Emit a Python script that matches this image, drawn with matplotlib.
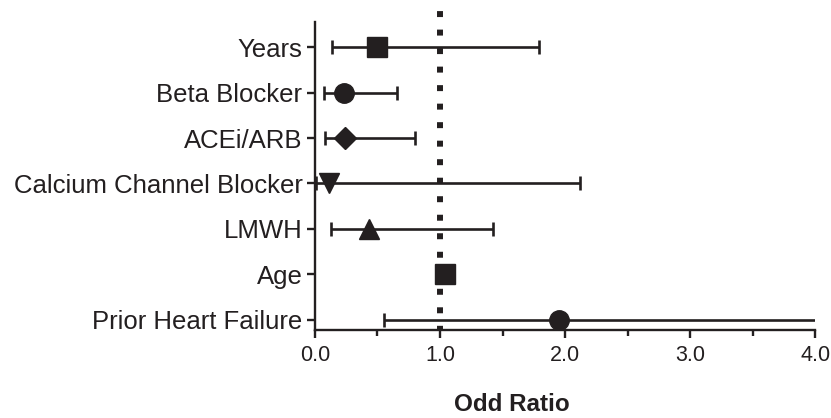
import matplotlib
matplotlib.use("Agg")
import matplotlib.pyplot as plt
from matplotlib.ticker import MultipleLocator

plt.rcParams['font.family'] = ['Liberation Sans', 'DejaVu Sans']

labels = ["Years", "Beta Blocker", "ACEi/ARB", "Calcium Channel Blocker",
          "LMWH", "Age", "Prior Heart Failure"]
odds = [0.50, 0.23, 0.24, 0.11, 0.43, 1.04, 1.95]
ci_low = [0.14, 0.07, 0.08, 0.01, 0.13, 1.02, 0.55]
ci_high = [1.79, 0.66, 0.80, 2.12, 1.42, 1.06, 4.50]
markers = ["s", "o", "D", "v", "^", "s", "o"]
msizes = [14, 14, 11, 14, 14, 14, 14]

ink = "#231f20"

fig = plt.figure(figsize=(8.31, 4.18), dpi=100)
ax = fig.add_axes([0.379, 0.211, 0.602, 0.736])

n = len(labels)
ypos = [n - 1 - i for i in range(n)]

# reference line at OR = 1, runs a little above the axes
ax.plot([1.0, 1.0], [-0.22, 6.8], color=ink, lw=4.3, ls=(0.3, (1.0, 2.1)),
        solid_capstyle='butt', dash_capstyle='butt', clip_on=False, zorder=1)

for i in range(n):
    err = [[odds[i] - ci_low[i]], [ci_high[i] - odds[i]]]
    ax.errorbar(odds[i], ypos[i], xerr=err, fmt=markers[i], color=ink,
                ms=msizes[i], elinewidth=1.9, capsize=5, capthick=1.9, zorder=3)

ax.set_xlim(0, 4)
ax.set_ylim(-0.22, 6.55)
ax.set_yticks(ypos)
ax.set_yticklabels(labels)
ax.xaxis.set_major_locator(MultipleLocator(1.0))
ax.xaxis.set_minor_locator(MultipleLocator(0.5))
ax.xaxis.set_major_formatter(plt.FormatStrFormatter('%.1f'))

for s in ["top", "right"]:
    ax.spines[s].set_visible(False)
for s in ["left", "bottom"]:
    ax.spines[s].set_linewidth(1.7)
    ax.spines[s].set_color(ink)

ax.tick_params(axis='both', which='major', length=6, width=1.7, color=ink,
               labelcolor=ink)
ax.tick_params(axis='y', labelsize=18.5, pad=3)
ax.tick_params(axis='x', labelsize=15.5, pad=5)
ax.tick_params(axis='x', which='minor', length=4, width=1.7, color=ink)

ax.set_xlabel("Odd Ratio", fontsize=17.5, fontweight='bold', color=ink)
ax.xaxis.label.set_va('center')
ax.xaxis.set_label_coords(0.394, -0.243)

fig.savefig("out.png", dpi=100)
